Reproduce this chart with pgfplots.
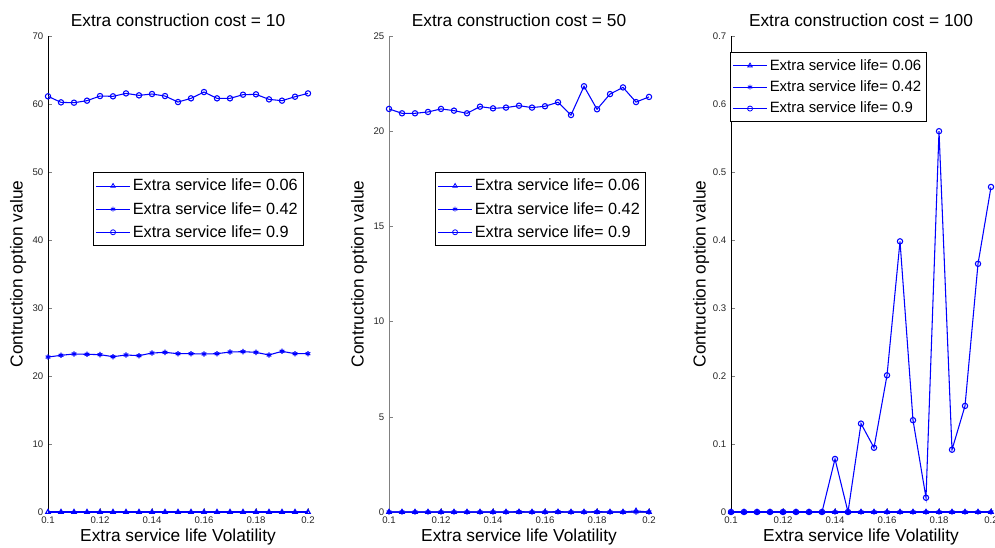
\documentclass[border=0pt]{standalone}
\usepackage{pgfplots}
\pgfplotsset{compat=1.18}
\usepackage{fontspec}
\setmainfont{Liberation Sans}

\pgfplotstableread{
x      a     b      c
0.100  0   22.79  61.13
0.105  0   23.04  60.24
0.110  0   23.24  60.19
0.115  0   23.19  60.49
0.120  0   23.14  61.17
0.125  0   22.84  61.13
0.130  0   23.09  61.56
0.135  0   22.99  61.27
0.140  0   23.38  61.47
0.145  0   23.48  61.17
0.150  0   23.28  60.29
0.155  0   23.28  60.83
0.160  0   23.24  61.76
0.165  0   23.28  60.83
0.170  0   23.53  60.83
0.175  0   23.58  61.37
0.180  0   23.48  61.42
0.185  0   23.09  60.68
0.190  0   23.63  60.49
0.195  0   23.28  61.07
0.200  0   23.28  61.56
}\tabA

\pgfplotstableread{
x      a     b      c
0.100  0     0.00  21.17
0.105  0     0.00  20.94
0.110  0     0.00  20.94
0.115  0     0.00  21.01
0.120  0     0.00  21.17
0.125  0     0.00  21.08
0.130  0     0.00  20.94
0.135  0     0.00  21.29
0.140  0     0.00  21.20
0.145  0     0.00  21.24
0.150  0     0.02  21.34
0.155  0     0.00  21.24
0.160  0     0.00  21.31
0.165  0     0.02  21.52
0.170  0     0.00  20.85
0.175  0     0.00  22.36
0.180  0     0.02  21.15
0.185  0     0.00  21.95
0.190  0     0.00  22.30
0.195  0.06  0.00  21.53
0.200  0     0.00  21.80
}\tabB

\pgfplotstableread{
x      a     b     c
0.100  0     0     0
0.105  0     0     0
0.110  0     0     0
0.115  0     0     0
0.120  0     0     0
0.125  0     0     0
0.130  0     0     0
0.135  0     0     0
0.140  0     0     0.078
0.145  0     0     0
0.150  0     0     0.130
0.155  0     0     0.0945
0.160  0     0     0.201
0.165  0     0     0.398
0.170  0     0     0.135
0.175  0     0     0.021
0.180  0     0     0.560
0.185  0     0     0.0916
0.190  0     0     0.156
0.195  0     0     0.365
0.200  0     0     0.478
}\tabC

\pgfplotsset{
  every axis title shift=0pt,
  mystyle/.style={
    scale only axis, width=195pt, height=357pt,
    anchor=south west,
    axis lines=left, axis line style={-, line width=0.6pt},
    tick align=inside, major tick length=3pt,
    xmin=0.1, xmax=0.2, ymin=0,
    xtick={0.1,0.12,0.14,0.16,0.18,0.2},
    ticklabel style={font=\fontsize{7.2}{8}\selectfont, text=black!85},
    /pgf/number format/assume math mode=true,
    xlabel={Extra service life Volatility},
    ylabel={Contruction option value},
    label style={font=\fontsize{13}{15}\selectfont},
    xlabel style={at={(axis description cs:0.5,-0.052)},anchor=center},
    ylabel style={at={(axis description cs:-0.115,0.5)},anchor=center},
    title style={at={(axis description cs:0.5,1.034)},anchor=center,font=\fontsize{13}{15}\selectfont},
    every axis plot/.append style={blue, line width=0.8pt, mark size=2pt, mark options={solid}},
    legend style={draw=black, fill=white, line width=0.5pt, font=\fontsize{12.2}{14}\selectfont,
      anchor=north west, row sep=3pt, inner xsep=2pt, inner ysep=3pt},
    legend cell align=left,
    legend image code/.code={\draw[mark repeat=2,mark phase=2,mark size=1.9pt,line width=0.6pt] plot coordinates {(0pt,0pt)(12.5pt,0pt)(25pt,0pt)};},
  }
}

\begin{document}
\begin{tikzpicture}
\useasboundingbox (0,0) rectangle (746.25pt,410.25pt);
\begin{axis}[mystyle, at={(36pt,26.25pt)}, ymax=70, ytick={0,10,...,70},
  title={Extra construction cost = 10},
  legend style={at={(0.173,0.714)}}]
\addplot[mark=triangle] table[x=x,y=a] {\tabA};
\addplot[mark=asterisk] table[x=x,y=b] {\tabA};
\addplot[mark=o] table[x=x,y=c] {\tabA};
\legend{Extra service life= 0.06, Extra service life= 0.42, Extra service life= 0.9}
\end{axis}
\begin{axis}[mystyle, at={(291.75pt,26.25pt)}, ymax=25, ytick={0,5,...,25},
  axis line style={-, line width=0.6pt, gray}, major tick style={gray},
  title={Extra construction cost = 50},
  legend style={at={(0.177,0.714)}}]
\addplot[mark=triangle] table[x=x,y=a] {\tabB};
\addplot[mark=asterisk] table[x=x,y=b] {\tabB};
\addplot[mark=o] table[x=x,y=c] {\tabB};
\legend{Extra service life= 0.06, Extra service life= 0.42, Extra service life= 0.9}
\end{axis}
\begin{axis}[mystyle, at={(548.25pt,26.25pt)}, ymax=0.7, ytick={0,0.1,...,0.7},
  yticklabel style={/pgf/number format/.cd, fixed, precision=1},
  title={Extra construction cost = 100},
  legend style={at={(-0.004,0.966)}, font=\fontsize{11.2}{13.5}\selectfont, inner ysep=3pt, row sep=2.5pt}]
\addplot[mark=triangle] table[x=x,y=a] {\tabC};
\addplot[mark=asterisk] table[x=x,y=b] {\tabC};
\addplot[mark=o] table[x=x,y=c] {\tabC};
\legend{Extra service life= 0.06, Extra service life= 0.42, Extra service life= 0.9}
\end{axis}
\end{tikzpicture}
\end{document}
